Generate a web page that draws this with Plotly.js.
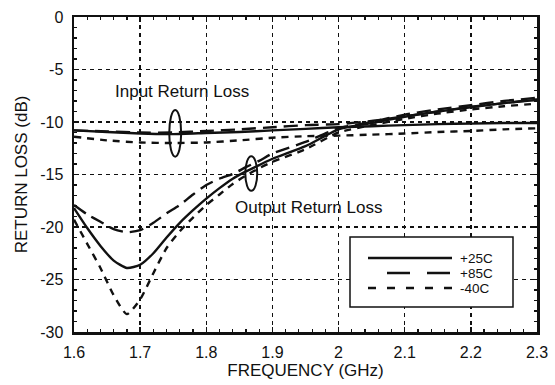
<!DOCTYPE html>
<html>
<head>
<meta charset="utf-8">
<script src="https://cdn.plot.ly/plotly-3.0.1.min.js"></script>
<style>html,body{margin:0;padding:0;background:#fff;}#chart{width:555px;height:385px;}</style>
</head>
<body>
<div id="chart"></div>
<script>
// ---- data ----
const freqOut = [1.60,1.62,1.64,1.66,1.68,1.70,1.72,1.74,1.76,1.78,1.80,1.82,1.84,1.86,1.88,1.90,1.95,2.00,2.05,2.10,2.15,2.20,2.25,2.30];
const out25 = [-18.2,-20.1,-21.8,-23.2,-23.9,-23.6,-22.5,-21.0,-19.6,-18.4,-17.3,-16.3,-15.4,-14.7,-14.1,-13.5,-12.3,-10.7,-10.1,-9.5,-9.0,-8.6,-8.2,-7.9];
const out85 = [-17.9,-18.8,-19.5,-20.2,-20.5,-20.3,-19.6,-18.7,-17.9,-16.9,-16.0,-15.4,-14.95,-14.3,-13.7,-13.0,-11.9,-10.6,-10.0,-9.3,-8.8,-8.4,-8.0,-7.7];
const outM40 = [-19.3,-21.6,-23.9,-26.5,-28.3,-26.9,-24.4,-22.0,-20.4,-19.1,-17.9,-16.9,-15.9,-15.1,-14.4,-13.8,-12.6,-11.0,-10.3,-9.7,-9.2,-8.8,-8.5,-8.25];
const freqIn = [1.60,1.65,1.70,1.75,1.80,1.85,1.90,1.95,2.00,2.05,2.10,2.15,2.20,2.25,2.30];
const in25 = [-10.8,-10.95,-11.1,-11.15,-11.05,-10.95,-10.8,-10.65,-10.5,-10.4,-10.3,-10.2,-10.15,-10.1,-10.1];
const in85 = [-10.8,-10.9,-11.0,-11.0,-10.85,-10.7,-10.5,-10.3,-10.2,-9.9,-9.45,-9.0,-8.55,-8.2,-7.85];
const inM40 = [-11.4,-11.75,-11.95,-12.0,-11.95,-11.75,-11.5,-11.35,-11.3,-11.2,-11.1,-10.95,-10.85,-10.7,-10.6];
const seriesNames = ['+25C','+85C','-40C'];
const xTickVals = [1.6,1.7,1.8,1.9,2.0,2.1,2.2,2.3];
const xTickText = ['1.6','1.7','1.8','1.9','2','2.1','2.2','2.3'];
const yTickVals = [0,-5,-10,-15,-20,-25,-30];
const yTickText = ['0','-5','-10','-15','-20','-25','-30'];
const labelInput = 'Input Return Loss';
const labelOutput = 'Output Return Loss';

// ---- styles ----
const FONT = '"Liberation Sans", Arial, Helvetica, sans-serif';
const INK = '#111';
const dashes = ['solid', '14px,7px', '7px,6px'];
const legendDashes = ['solid', '23px,17px', '8px,11px'];
const W = 2.4;

function tr(x, y, i) {
  return {x: x, y: y, type: 'scatter', mode: 'lines', name: seriesNames[i],
    showlegend: false,
    line: {color: INK, width: W, dash: dashes[i], shape: 'spline', smoothing: 0.6},
    hoverinfo: 'skip'};
}
const traces = [
  tr(freqOut, out25, 0), tr(freqOut, out85, 1), tr(freqOut, outM40, 2),
  tr(freqIn, in25, 0), tr(freqIn, in85, 1), tr(freqIn, inM40, 2)
];

const axisCommon = {
  showline: true, linecolor: INK, linewidth: 2.5, mirror: 'allticks',
  ticks: 'inside', ticklen: 5, tickwidth: 1.5, tickcolor: INK,
  showgrid: true, gridcolor: INK, gridwidth: 1.3, griddash: '4px,4px',
  zeroline: false, tickfont: {family: FONT, size: 16, color: INK}
};

// plot-area pixel geometry (for placing the hand-drawn legend in paper coords)
const L = 74, R = 18, T = 17, B = 53, WID = 555, HGT = 385;
const pw = WID - L - R, ph = HGT - T - B;
const px = v => (v - L) / pw;
const py = v => (HGT - B - v) / ph;

const shapes = [
  {type: 'circle', xref: 'x', yref: 'y', x0: 1.744, x1: 1.762, y0: -13.3, y1: -8.85,
    line: {color: INK, width: 2}},
  {type: 'circle', xref: 'x', yref: 'y', x0: 1.859, x1: 1.877, y0: -16.55, y1: -13.25,
    line: {color: INK, width: 2}},
  {type: 'rect', xref: 'paper', yref: 'paper', x0: px(350), x1: px(513), y0: py(307), y1: py(237),
    fillcolor: '#fff', line: {color: INK, width: 1.5}, layer: 'above'}
];
const annotations = [
  {x: 1.764, y: -7.1, xref: 'x', yref: 'y', text: labelInput, showarrow: false,
    font: {family: FONT, size: 17, color: INK}},
  {x: 1.955, y: -18.1, xref: 'x', yref: 'y', text: labelOutput, showarrow: false,
    font: {family: FONT, size: 17, color: INK}}
];
const rowsY = [258, 273, 288];
const rowX0 = [368, 387, 368];
seriesNames.forEach((nm, i) => {
  shapes.push({type: 'line', xref: 'paper', yref: 'paper', x0: px(rowX0[i]), x1: px(452),
    y0: py(rowsY[i]), y1: py(rowsY[i]), line: {color: INK, width: W, dash: legendDashes[i]}, layer: 'above'});
  annotations.push({xref: 'paper', yref: 'paper', x: px(459), y: py(rowsY[i]), xanchor: 'left', yanchor: 'middle',
    text: nm, showarrow: false, borderpad: 0, font: {family: FONT, size: 13.5, color: INK}});
});

const layout = {
  width: WID, height: HGT,
  margin: {l: L, r: R, t: T, b: B},
  paper_bgcolor: '#fff', plot_bgcolor: '#fff',
  font: {family: FONT, color: INK},
  showlegend: false,
  xaxis: Object.assign({}, axisCommon, {
    range: [1.6, 2.3], tickmode: 'array', tickvals: xTickVals, ticktext: xTickText,
    ticklabelstandoff: 4,
    minor: {dtick: 0.02, tick0: 1.6, ticks: 'inside', ticklen: 3, tickwidth: 1.2, tickcolor: INK, showgrid: false},
    title: {text: 'FREQUENCY (GHz)', font: {family: FONT, size: 17, color: INK}, standoff: 5}
  }),
  yaxis: Object.assign({}, axisCommon, {
    range: [-30, 0], tickmode: 'array', tickvals: yTickVals, ticktext: yTickText,
    ticklabelstandoff: 5,
    minor: {dtick: 1, tick0: 0, ticks: 'inside', ticklen: 3, tickwidth: 1.2, tickcolor: INK, showgrid: false},
    title: {text: 'RETURN LOSS (dB)', font: {family: FONT, size: 17, color: INK}, standoff: 8}
  }),
  annotations: annotations,
  shapes: shapes
};

Plotly.newPlot('chart', traces, layout, {staticPlot: true, displayModeBar: false});
</script>
</body>
</html>
